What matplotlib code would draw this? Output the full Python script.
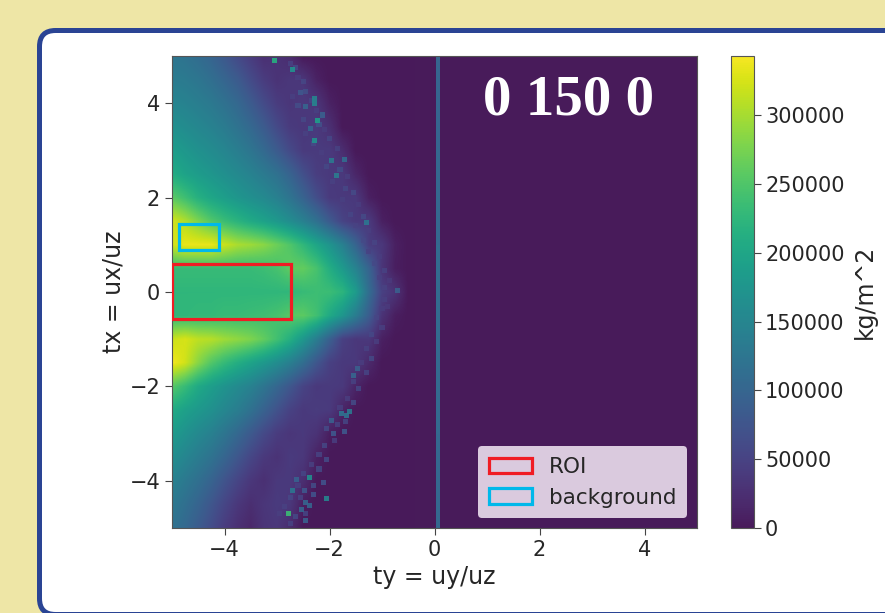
import matplotlib
matplotlib.use("Agg")
import matplotlib.pyplot as plt
from matplotlib.colors import ListedColormap
from matplotlib.patches import FancyBboxPatch, Rectangle
import numpy as np

# values, in thousands of kg/m^2
ty_cols = [-5, -4.75, -4.5, -4.25, -4, -3.75, -3.5, -3.25, -3, -2.75,
           -2.5, -2.25, -2, -1.75, -1.5, -1.25, -1, -0.75, -0.5]
tx_rows = [5, 4.5, 4, 3.5, 3, 2.5, 2, 1.5, 1, 0.5, 0,
           -0.5, -1, -1.5, -2, -2.5, -3, -3.5, -4, -4.5, -5]
density = [
    [125, 120, 110, 98, 80, 60, 42, 25, 30, 20, 0, 0, 0, 0, 0, 0, 0, 0, 0],
    [135, 132, 125, 114, 100, 84, 62, 42, 30, 36, 34, 10, 0, 0, 0, 0, 0, 0, 0],
    [150, 145, 138, 130, 118, 104, 84, 62, 42, 34, 38, 34, 10, 0, 0, 0, 0, 0, 0],
    [168, 160, 152, 144, 134, 120, 104, 84, 60, 40, 36, 40, 26, 0, 0, 0, 0, 0, 0],
    [188, 178, 168, 160, 150, 138, 124, 106, 84, 60, 40, 40, 40, 22, 0, 0, 0, 0, 0],
    [210, 195, 185, 176, 166, 156, 145, 132, 118, 96, 68, 44, 38, 38, 14, 0, 0, 0, 0],
    [258, 238, 215, 200, 188, 176, 166, 156, 142, 122, 96, 66, 40, 38, 38, 8, 0, 0, 0],
    [325, 305, 278, 252, 234, 220, 206, 194, 180, 162, 142, 118, 84, 52, 38, 40, 8, 0, 0],
    [320, 335, 335, 335, 318, 302, 295, 285, 268, 250, 226, 200, 174, 142, 98, 44, 36, 8, 0],
    [232, 232, 232, 232, 232, 232, 232, 236, 244, 260, 262, 245, 212, 182, 146, 98, 32, 6, 0],
    [225, 225, 225, 225, 225, 225, 225, 225, 225, 226, 232, 236, 235, 222, 185, 112, 48, 30, 0],
    [226, 226, 228, 228, 232, 232, 235, 238, 244, 256, 258, 240, 206, 176, 136, 88, 30, 6, 0],
    [318, 325, 312, 308, 296, 288, 278, 262, 240, 214, 178, 138, 92, 48, 36, 38, 8, 0, 0],
    [342, 322, 284, 252, 230, 212, 196, 180, 162, 140, 112, 78, 48, 38, 38, 18, 0, 0, 0],
    [255, 232, 205, 188, 172, 158, 144, 124, 102, 78, 52, 38, 40, 38, 12, 0, 0, 0, 0],
    [208, 192, 180, 168, 152, 138, 118, 95, 72, 50, 38, 42, 40, 12, 0, 0, 0, 0, 0],
    [185, 170, 155, 142, 124, 104, 82, 60, 42, 34, 38, 30, 6, 0, 0, 0, 0, 0, 0],
    [165, 150, 135, 120, 100, 78, 56, 38, 30, 40, 36, 10, 0, 0, 0, 0, 0, 0, 0],
    [145, 130, 115, 97, 74, 54, 36, 26, 38, 38, 24, 0, 0, 0, 0, 0, 0, 0, 0],
    [130, 115, 98, 77, 55, 36, 24, 34, 40, 36, 6, 0, 0, 0, 0, 0, 0, 0, 0],
    [120, 105, 85, 64, 42, 26, 16, 32, 36, 20, 0, 0, 0, 0, 0, 0, 0, 0, 0],
]

# isolated noisy cells along the edge of the fan
speck_ty = [-3.05, -2.71, -2.29, -2.29, -2.22, -2.29, -1.97, -1.87, -1.29, -1.71,
            -2.46, -2.13, -2.37, -2.55, -2.79, -2.38, -2.05, -2.71, -2.63, -2.54,
            -2.46, -2.38, -2.46, -1.77, -1.68, -1.62, -1.96, -1.71, -1.93, -1.55,
            -1.46, -0.71, -2.30, -2.47, -2.12]
speck_tx = [4.90, 4.72, 4.10, 4.00, 3.64, 3.21, 2.78, 2.46, 1.47, 2.80,
            3.92, 3.75, 3.46, 4.22, -4.69, -3.93, -4.37, -4.21, -3.97, -4.60,
            -4.45, -4.52, -4.85, -2.57, -2.61, -2.54, -2.73, -2.95, -3.00, -1.77,
            -1.62, 0.03, -4.30, -4.20, -4.04]
speck_val = [215, 170, 150, 150, 190, 170, 130, 135, 125, 110,
             100, 90, 100, 80, 235, 165, 150, 125, 95, 100,
             100, 100, 90, 120, 120, 130, 90, 80, 80, 100,
             90, 90, 70, 80, 70]

# fainter cells that make up the noisy band
haze_ty = [-2.75, -2.65, -2.60, -2.50, -2.45, -2.70, -2.35, -2.60, -2.25, -2.50,
           -2.20, -2.45, -2.10, -2.30, -2.00, -2.15, -1.85, -2.05, -1.80, -1.95,
           -1.65, -1.70, -1.55, -1.75, -1.45, -1.60, -1.35, -1.50, -1.25, -1.35,
           -1.15, -1.25, -1.05, -1.15, -0.95, -1.05, -0.85, -0.95,
           -0.95, -1.00, -0.90, -1.10, -1.00, -1.20, -1.10, -1.30, -1.20, -1.40,
           -1.30, -1.55, -1.45, -1.65, -1.55, -1.80, -1.70, -1.85, -2.05, -1.90,
           -2.10, -2.20, -2.05, -2.35, -2.20, -2.50, -2.30, -2.60, -2.75, -2.55,
           -2.85, -2.65, -2.95, -2.45, -2.75]
haze_tx = [4.85, 4.75, 4.55, 4.45, 4.25, 4.15, 4.05, 3.95, 3.85, 3.65,
           3.55, 3.35, 3.45, 3.15, 3.25, 2.95, 3.05, 2.65, 2.60, 2.35,
           2.45, 2.20, 2.10, 1.95, 1.85, 1.65, 1.60, 1.40, 1.30, 1.10,
           1.05, 0.85, 0.75, 0.60, 0.45, 0.30, 0.25, 0.10,
           -0.15, -0.35, -0.30, -0.55, -0.75, -0.90, -1.05, -1.20, -1.40, -1.50,
           -1.70, -1.90, -2.05, -2.25, -2.35, -2.45, -2.75, -2.80, -2.90, -3.15,
           -3.25, -3.45, -3.55, -3.65, -3.75, -3.85, -4.10, -4.10, -4.35, -4.35,
           -4.55, -4.75, -4.70, -4.70, -4.90]
haze_val = [50, 62, 45, 58, 70, 48, 55, 66, 48, 60,
            72, 50, 44, 62, 58, 46, 52, 60, 68, 50,
            46, 58, 64, 48, 44, 56, 62, 50, 46, 60,
            54, 48, 44, 58, 52, 46, 40, 50,
            48, 44, 40, 54, 48, 58, 46, 50, 62, 44,
            56, 52, 60, 46, 66, 48, 58, 52, 64, 48,
            60, 54, 66, 50, 62, 56, 68, 48, 60, 54,
            50, 62, 46, 58, 52]

# column of the beam line near ty = 0
line_tx = [5, 3, 1, -1, -3, -5]
line_val = [100, 104, 108, 106, 102, 98]

cbar_ticks = [0, 50000, 100000, 150000, 200000, 250000, 300000]
vmax = 343000

W, H = 885, 613
fig = plt.figure(figsize=(W / 100, H / 100), dpi=100, facecolor="#eee6a6")


def px_axes(x0, y0, x1, y1):
    return fig.add_axes([x0 / W, 1 - y1 / H, (x1 - x0) / W, (y1 - y0) / H])


# white card with blue border
bg = fig.add_axes([0, 0, 1, 1])
bg.set_xlim(0, W)
bg.set_ylim(H, 0)
bg.axis("off")
bg.add_patch(FancyBboxPatch((53.5, 44.5), 900, 556, boxstyle="round,pad=14,rounding_size=16",
                            facecolor="white", edgecolor="#2a4494", linewidth=3.6))

# the dark end of viridis is a bit lifted in the screenshot
t = np.linspace(0, 1, 256)
base = plt.get_cmap("viridis")(t)[:, :3].copy()
base[:, 0] += 0.025 * (1 - t) ** 3
base[:, 1] += 0.10 * (1 - t) ** 3
base[:, 2] += 0.025 * (1 - t) ** 3
base[:, 0] *= 0.97
shot_cmap = ListedColormap(np.clip(base, 0, 1))

ax = px_axes(172, 56, 697, 528)
ax.set_facecolor(shot_cmap(0.0))
Z = np.array(density) * 1000.0
dty = ty_cols[1] - ty_cols[0]
dtx = tx_rows[0] - tx_rows[1]
ax.imshow(Z, origin="upper", aspect="auto", cmap=shot_cmap, vmin=0, vmax=vmax,
          extent=[ty_cols[0] - dty / 2, ty_cols[-1] + dty / 2, tx_rows[-1] - dtx / 2, tx_rows[0] + dtx / 2],
          interpolation="bilinear", interpolation_stage="data")
ax.scatter(haze_ty, haze_tx, c=np.array(haze_val) * 1000.0, cmap=shot_cmap, vmin=0, vmax=vmax,
           marker="s", s=13, linewidths=0, alpha=0.8, zorder=2)
ax.scatter(speck_ty, speck_tx, c=np.array(speck_val) * 1000.0, cmap=shot_cmap, vmin=0, vmax=vmax,
           marker="s", s=13, linewidths=0, alpha=0.9, zorder=2)
ax.pcolormesh([0.02, 0.1], line_tx, np.array([line_val[:-1]]).T * 1000.0,
              cmap=shot_cmap, vmin=0, vmax=vmax, zorder=2)
ax.set_xlim(-5, 5)
ax.set_ylim(-5, 5)
ax.set_xticks([-4, -2, 0, 2, 4])
ax.set_yticks([-4, -2, 0, 2, 4])
ax.tick_params(labelsize=15, length=5, color="#444444", labelcolor="#262626")
ax.set_xlabel("ty = uy/uz", fontsize=17, color="#262626", labelpad=4)
ax.set_ylabel("tx = ux/uz", fontsize=17, color="#262626", labelpad=3)
for s in ax.spines.values():
    s.set_color("#555555")

roi = Rectangle((-5, -0.58), 2.26, 1.18, fill=False, edgecolor="#f01c24", linewidth=2.3, label="ROI", zorder=3)
back = Rectangle((-4.87, 0.9), 0.76, 0.55, fill=False, edgecolor="#00b8ea", linewidth=2.3, label="background", zorder=3)
ax.add_patch(roi)
ax.add_patch(back)
ax.legend(handles=[roi, back], loc="lower right", fontsize=15.5, framealpha=0.85, borderaxespad=0.45,
          labelcolor="#262626", facecolor="#f5eaf6", edgecolor="none", borderpad=0.5)

ax.text(0.755, 0.905, "0 150 0", transform=ax.transAxes, ha="center", va="center", color="white",
        fontsize=41, fontweight="bold", family="Liberation Serif", zorder=5)

cax = px_axes(731, 56, 754, 528)
sm = plt.cm.ScalarMappable(cmap=shot_cmap, norm=plt.Normalize(0, vmax))
cb = fig.colorbar(sm, cax=cax, ticks=cbar_ticks)
cb.ax.tick_params(labelsize=15, length=5, pad=3, color="#444444", labelcolor="#262626")
cb.set_label("kg/m^2", fontsize=17, color="#262626", labelpad=6)
cb.outline.set_edgecolor("#555555")

fig.savefig("out.png", dpi=100, facecolor=fig.get_facecolor())
